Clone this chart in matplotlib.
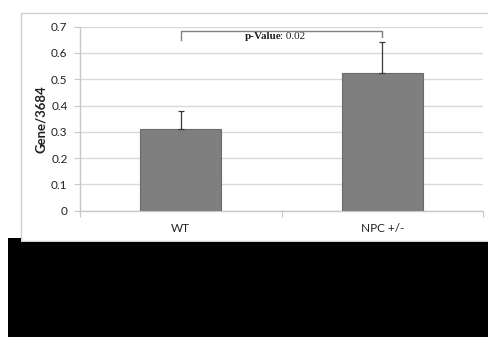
import matplotlib
matplotlib.use("Agg")
import matplotlib.pyplot as plt
from matplotlib.patches import Rectangle, Polygon
from matplotlib.lines import Line2D

categories = ["WT", "NPC +/-"]
values = [0.312, 0.523]
errors = [0.067, 0.117]
y_ticks = [0, 0.1, 0.2, 0.3, 0.4, 0.5, 0.6, 0.7]
y_label = "Gene/3684"
p_label_bold = "p-Value"
p_value_text = ": 0.02"

W, H = 489, 337
fig = plt.figure(figsize=(W / 100, H / 100), dpi=100)
fig.patch.set_facecolor("white")

def fx(px):
    return px / W

def fy(py):
    return 1 - py / H

# chart frame
fig.patches.append(Rectangle((fx(20.7), fy(241)), fx(489 + 5) - fx(20.7), fy(13) - fy(241),
                             transform=fig.transFigure, fill=False, edgecolor="#d0d0d0",
                             linewidth=1.0, zorder=0))

ax = fig.add_axes([fx(80), fy(210.7), fx(483) - fx(80), fy(26.7) - fy(210.7)])
ax.set_facecolor("none")

x = list(range(len(categories)))
ax.bar(x, values, width=0.40, color="#7f7f7f", edgecolor="#6a6a6a", linewidth=0.8, zorder=3)
ax.errorbar(x, values, yerr=[[0] * len(errors), errors], fmt="none", ecolor="#3a3a3a",
            elinewidth=0.9, capsize=2.5, capthick=0.9, zorder=4)

ax.set_xlim(-0.5, 1.5)
ax.set_ylim(0, 0.7)
ax.set_yticks(y_ticks)
ax.set_yticklabels(["0" if t == 0 else f"{t:.1f}" for t in y_ticks])
ax.grid(axis="y", color="#d9d9d9", linewidth=1.0, zorder=0)
ax.set_axisbelow(True)

for s in ["top", "right"]:
    ax.spines[s].set_visible(False)
ax.spines["left"].set_color("#c8c8c8")
ax.spines["bottom"].set_color("#c8c8c8")
ax.spines["left"].set_linewidth(1.0)
ax.spines["bottom"].set_linewidth(1.0)

ax.set_xticks([-0.5, 0.5, 1.5])
ax.set_xticklabels([])
ax.set_xticks(x, minor=True)
ax.set_xticklabels(categories, minor=True)
ax.tick_params(axis="x", which="major", length=4, color="#c8c8c8", direction="out")
ax.tick_params(axis="x", which="minor", length=0, pad=9, labelsize=8.5, labelcolor="#222222")
ax.tick_params(axis="y", length=4, color="#c8c8c8", labelsize=8.5, labelcolor="#222222", pad=5)
for lab in ax.get_xticklabels(minor=True) + ax.get_yticklabels():
    lab.set_family("Lato")

ax.set_ylabel(y_label, fontsize=9.5, fontweight="bold", family="Lato", labelpad=3, color="#222222")

# significance bracket
br_top = 0.6835
ax.add_line(Line2D([0, 0, 1, 1], [0.649, br_top, br_top, 0.660], color="#808080",
                   linewidth=1.0, clip_on=False, zorder=5))
t = ax.text(0.5, 0.662, p_label_bold, fontsize=8, fontweight="bold", family="Liberation Serif",
            ha="right", va="center", color="#222222")
ax.annotate(p_value_text, xy=(1, 0.5), xycoords=t, xytext=(-0.8, 0), textcoords="offset points",
            fontsize=8, family="Liberation Serif", ha="left", va="center", color="#222222")

# black cover band
fig.patches.append(Polygon([(fx(8), fy(238.3)), (fx(20.7), fy(238.3)), (fx(20.7), fy(241.5)),
                            (fx(489), fy(241.5)), (fx(489), fy(337)), (fx(8), fy(337))],
                           closed=True, transform=fig.transFigure, facecolor="black",
                           edgecolor="none", zorder=10))

fig.savefig("out.png", dpi=100)
